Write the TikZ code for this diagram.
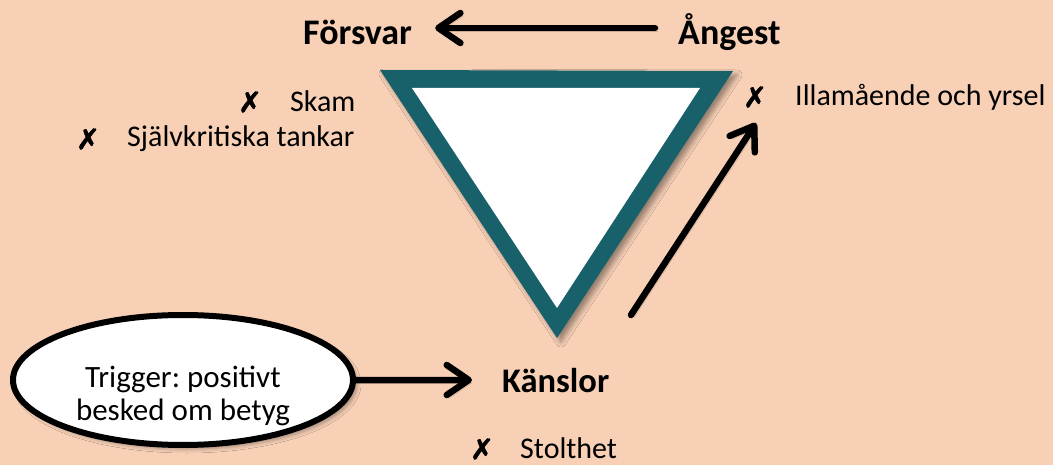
\documentclass[tikz,border=0pt]{standalone}
\usepackage{fontspec}
\setmainfont{Carlito}
\newfontfamily\symfont[FakeBold=2.5]{DejaVu Sans}
\usetikzlibrary{arrows.meta,shadows.blur,shapes.geometric,calc}
\definecolor{bgpeach}{RGB}{247,208,182}
\definecolor{tealdark}{RGB}{24,97,107}
\frenchspacing
\tikzset{
  lbl/.style={font=\fontsize{36}{40}\selectfont\bfseries, inner sep=0pt, anchor=base west},
  txt/.style={font=\fontsize{30}{36}\selectfont, inner sep=0pt, anchor=base west},
  xmark/.style={font=\symfont\fontsize{28}{30}\selectfont, inner sep=0pt},
  arr/.style={line width=6.5pt, line cap=round,
    -{Straight Barb[length=22pt,width=30pt,round]},
    preaction={draw=black, opacity=0.18, transform canvas={shift={(3,3)}}}},
  trigbox/.style={ellipse, draw=black, line width=6pt, fill=white,
    minimum width=340pt, minimum height=130pt, inner sep=0pt,
    font=\fontsize{31}{33}\selectfont,
    blur shadow={shadow xshift=4pt, shadow yshift=-4pt, shadow blur radius=4pt, shadow opacity=35}}
}
\begin{document}
\begin{tikzpicture}[x=1pt,y=-1pt]
\fill[bgpeach] (0,0) rectangle (1053,465);
\useasboundingbox (0,0) rectangle (1053,465);

% triangle
\coordinate (tl) at (380,70);
\coordinate (tr) at (733,71);
\coordinate (tb) at (557,338);
\coordinate (il) at (412,88);
\coordinate (ir) at (700,88);
\coordinate (ib) at (557,308);
\fill[tealdark, blur shadow={shadow xshift=4pt, shadow yshift=-4pt, shadow blur radius=5pt, shadow opacity=40}] (tl) -- (tr) -- (tb) -- cycle;
\fill[white] (il) -- (ir) -- (ib) -- cycle;

% labels
\node[lbl] (fors) at (303,45) {Försvar};
\node[lbl] (ang) at (678,45) {Ångest};
\node[lbl, font=\fontsize{34.5}{40}\selectfont\bfseries] (kans) at (502,392) {Känslor};

% bullet items
\node[xmark] (xskam) at (250,102) {✗};
\node[txt] (skam) at (290,112) {Skam};
\node[xmark] (xsjalv) at (88,139) {✗};
\node[txt] (sjalv) at (127,147) {Självkritiska tankar};
\node[xmark] (xill) at (755,97) {✗};
\node[txt] (ill) at (795,106) {Illamående och yrsel};
\node[xmark] (xstolt) at (482,449) {✗};
\node[txt] (stolt) at (520,458) {Stolthet};

% trigger ellipse
\node[trigbox] (trig) at (183,380) {\raisebox{-24pt}[0pt][0pt]{\begin{tabular}{@{}c@{}}Trigger: positivt\\besked om betyg\end{tabular}}};

% arrows
\draw[arr] ([shift={(-23,-17)}]ang.base west) -- ([shift={(23,-17)}]fors.base east);
\coordinate (dtail) at (631,315);
\coordinate (dtip) at (756,123);
\draw[arr] (dtail) -- (dtip);
\draw[arr, shorten >=30pt] (trig.east) -- (kans.west);
\end{tikzpicture}
\end{document}
